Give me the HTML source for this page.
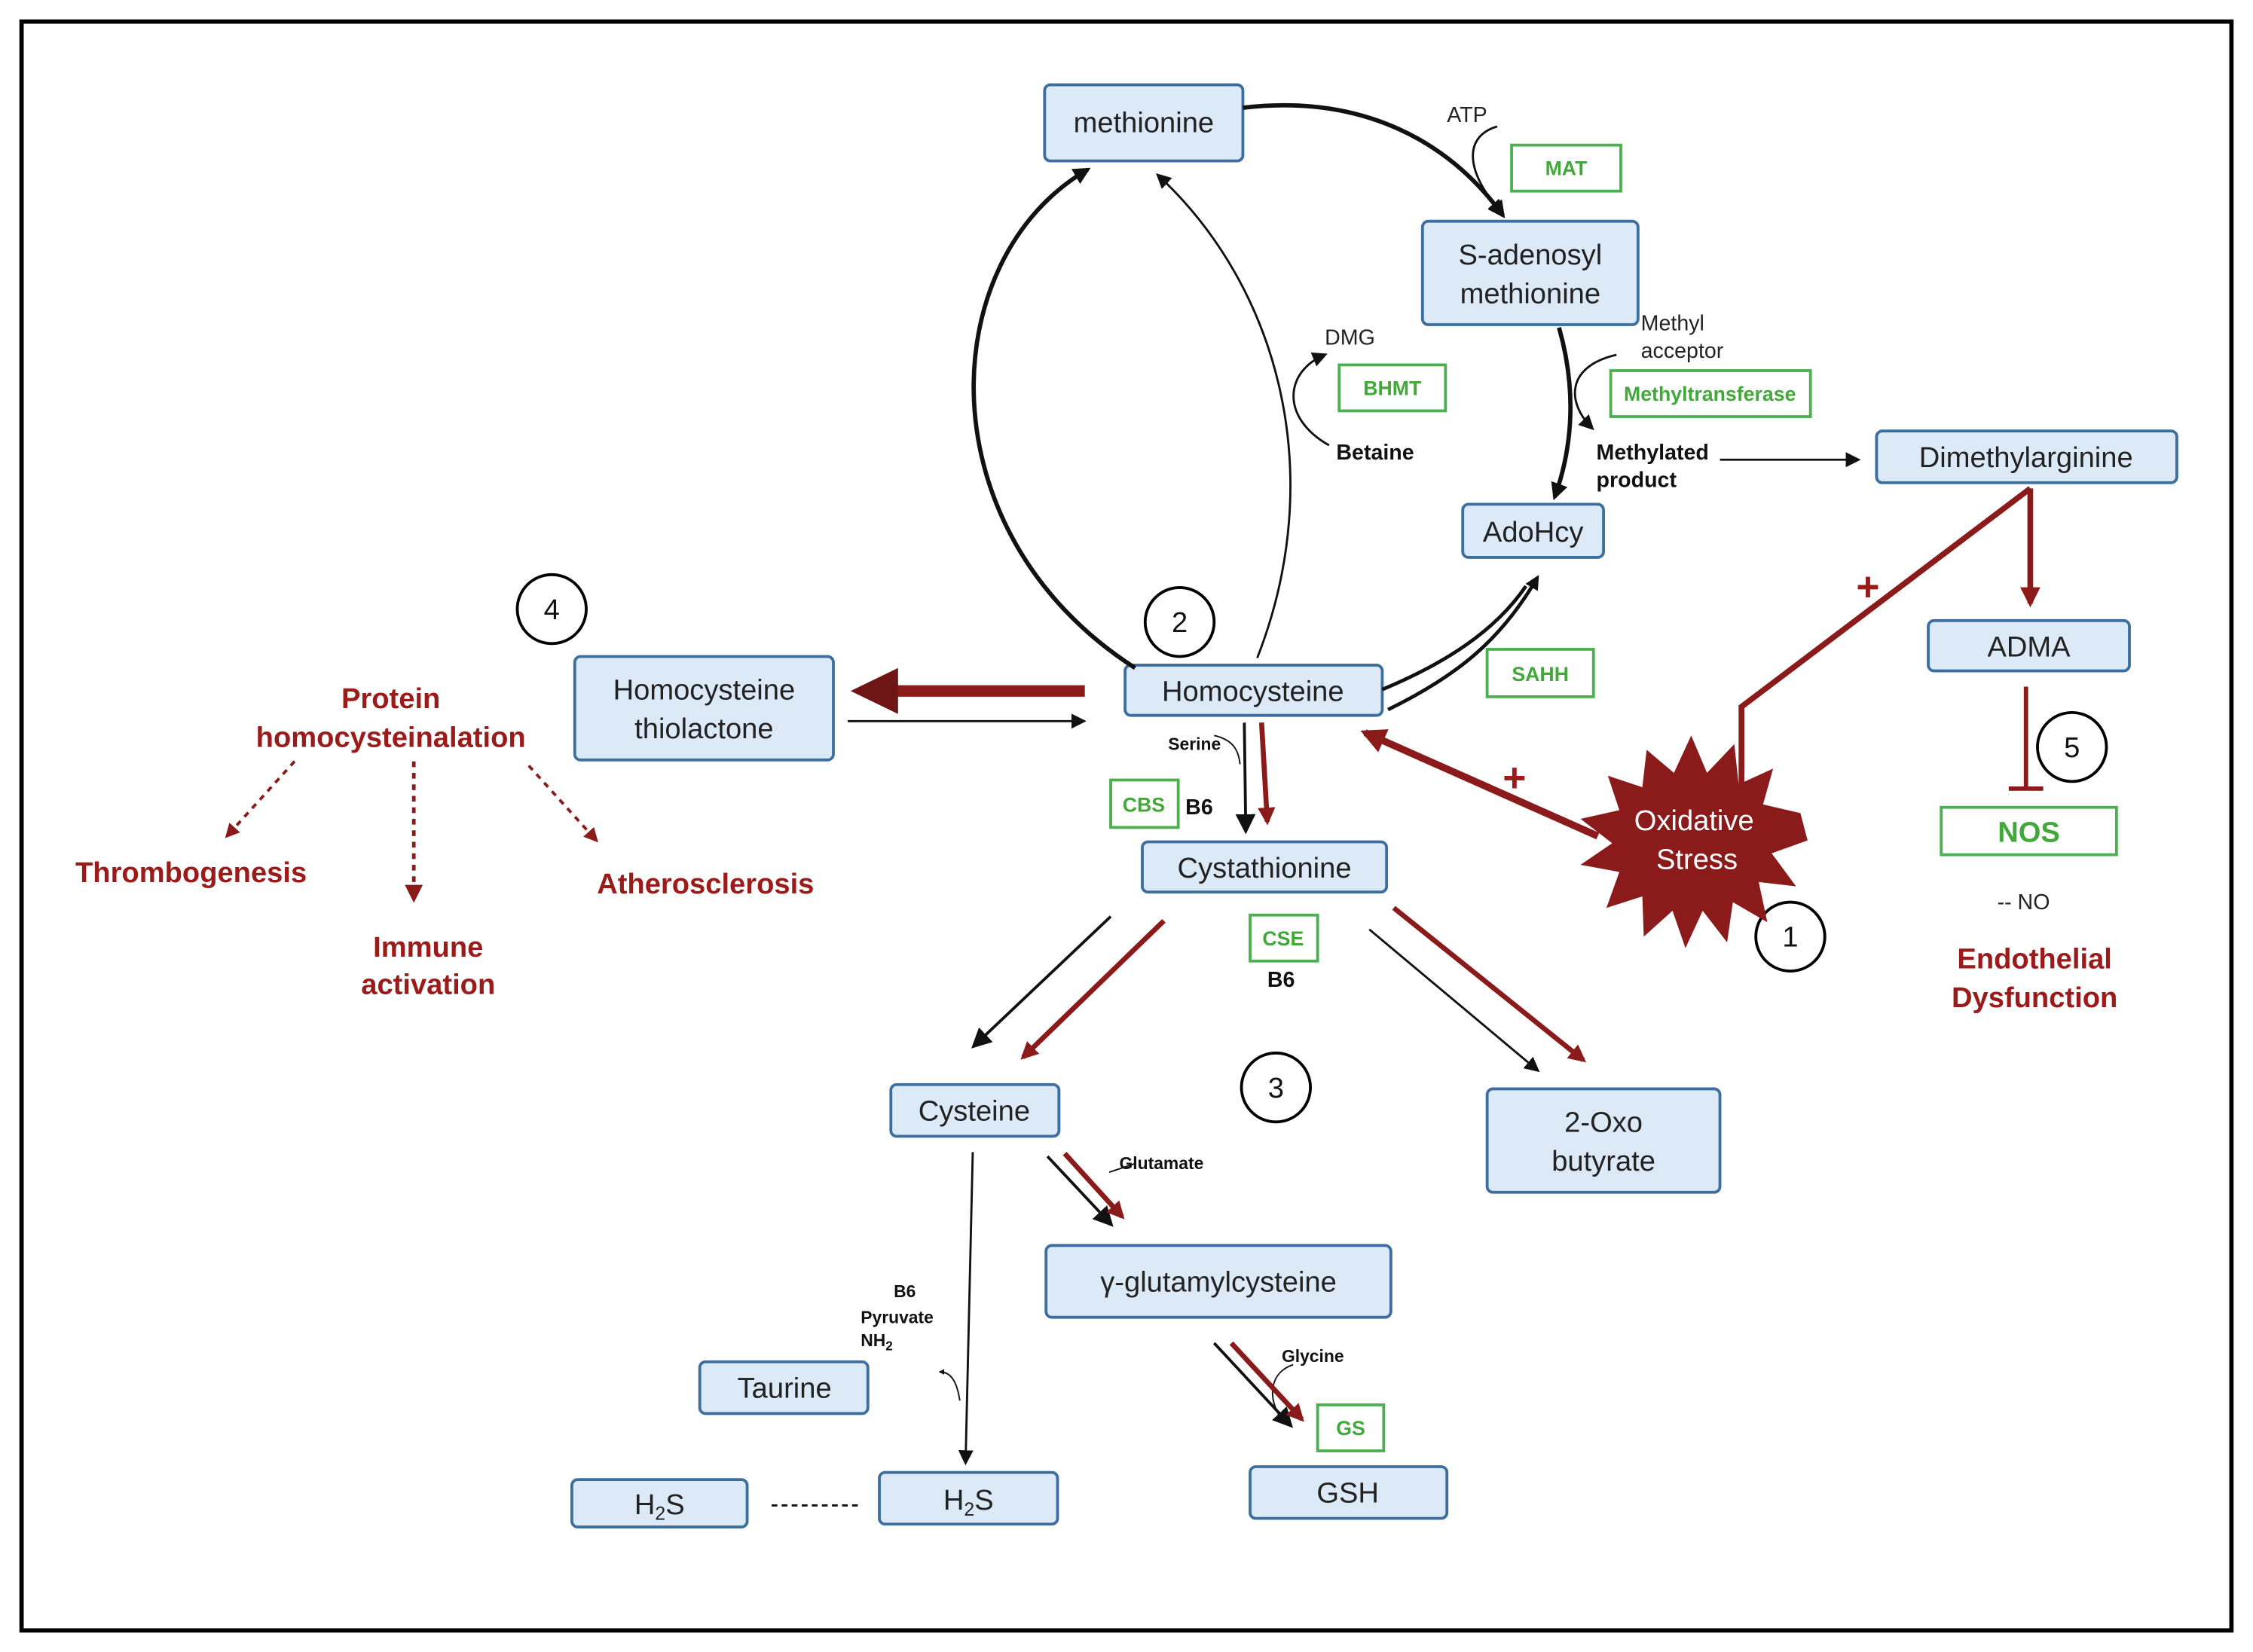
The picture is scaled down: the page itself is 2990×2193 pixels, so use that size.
<!DOCTYPE html>
<html><head><meta charset="utf-8"><style>html,body{margin:0;padding:0;background:#fff}svg{display:block}</style></head><body>
<svg width="2990" height="2193" viewBox="0 0 1568 1150" xmlns="http://www.w3.org/2000/svg" font-family="Liberation Sans, sans-serif">
<defs>
<marker id="ab" viewBox="0 0 10 10" refX="8" refY="5" markerWidth="4" markerHeight="4" orient="auto-start-reverse"><path d="M0,0 L10,5 L0,10 z" fill="#111"/></marker>
<marker id="abs" viewBox="0 0 10 10" refX="8" refY="5" markerWidth="7" markerHeight="7" orient="auto"><path d="M0,0 L10,5 L0,10 z" fill="#111"/></marker>
<marker id="ar" viewBox="0 0 10 10" refX="8" refY="5" markerWidth="3.5" markerHeight="3.5" orient="auto"><path d="M0,0 L10,5 L0,10 z" fill="#8b1a1a"/></marker>
<marker id="ard" viewBox="0 0 10 10" refX="8" refY="5" markerWidth="5" markerHeight="5" orient="auto"><path d="M0,0 L10,5 L0,10 z" fill="#8b1a1a"/></marker>
</defs>
<rect x="0" y="0" width="1568" height="1150" fill="#fff"/>
<rect x="15" y="15" width="1538" height="1120" fill="none" stroke="#000" stroke-width="3"/>

<g fill="#dceaf8" stroke="#3c6f9f" stroke-width="2">
<rect x="727" y="59" width="138" height="53" rx="4"/>
<rect x="990" y="154" width="150" height="72" rx="4"/>
<rect x="1306" y="300" width="209" height="36" rx="4"/>
<rect x="1018" y="351" width="98" height="37" rx="4"/>
<rect x="1342" y="432" width="140" height="35" rx="4"/>
<rect x="783" y="463" width="179" height="35" rx="4"/>
<rect x="400" y="457" width="180" height="72" rx="4"/>
<rect x="795" y="586" width="170" height="35" rx="4"/>
<rect x="620" y="755" width="117" height="36" rx="4"/>
<rect x="1035" y="758" width="162" height="72" rx="4"/>
<rect x="728" y="867" width="240" height="50" rx="4"/>
<rect x="870" y="1021" width="137" height="36" rx="4"/>
<rect x="487" y="948" width="117" height="36" rx="4"/>
<rect x="398" y="1030" width="122" height="33" rx="4"/>
<rect x="612" y="1025" width="124" height="36" rx="4"/>
</g>
<g fill="#fff" stroke="#4caf50" stroke-width="2">
<rect x="1052" y="101" width="76" height="32"/>
<rect x="932" y="254" width="74" height="32"/>
<rect x="1121" y="258" width="139" height="32"/>
<rect x="1035" y="452" width="74" height="33"/>
<rect x="773" y="543" width="47" height="33"/>
<rect x="870" y="637" width="47" height="32"/>
<rect x="917" y="978" width="46" height="32"/>
<rect x="1351" y="562" width="122" height="33"/>
</g>
<g fill="#43a83a" font-weight="bold" font-size="14" text-anchor="middle">
<text x="1090" y="122">MAT</text><text x="969" y="275">BHMT</text><text x="1190" y="279">Methyltransferase</text>
<text x="1072" y="474">SAHH</text><text x="796" y="565">CBS</text><text x="893" y="658">CSE</text><text x="940" y="999">GS</text>
<text x="1412" y="586" font-size="20">NOS</text>
</g>
<g font-size="20" text-anchor="middle" fill="#222">
<text x="796" y="92">methionine</text>
<text x="1065" y="184">S-adenosyl</text><text x="1065" y="211">methionine</text>
<text x="1410" y="325">Dimethylarginine</text>
<text x="1067" y="377">AdoHcy</text>
<text x="1412" y="457">ADMA</text>
<text x="872" y="488">Homocysteine</text>
<text x="490" y="487">Homocysteine</text><text x="490" y="514">thiolactone</text>
<text x="880" y="611">Cystathionine</text>
<text x="678" y="780">Cysteine</text>
<text x="1116" y="788">2-Oxo</text><text x="1116" y="815">butyrate</text>
<text x="848" y="899">γ-glutamylcysteine</text>
<text x="938" y="1046">GSH</text>
<text x="546" y="973">Taurine</text>
<text x="459" y="1054">H<tspan font-size="13" dy="4">2</tspan><tspan dy="-4">S</tspan></text>
<text x="674" y="1051">H<tspan font-size="13" dy="4">2</tspan><tspan dy="-4">S</tspan></text>
</g>
<g font-size="15" fill="#222">
<text x="1007" y="85">ATP</text><text x="922" y="240">DMG</text>
<text x="1142" y="230">Methyl</text><text x="1142" y="249">acceptor</text>
<text x="1390" y="633">-- NO</text>
</g>
<g font-size="15" font-weight="bold" fill="#111">
<text x="930" y="320">Betaine</text>
<text x="1111" y="320">Methylated</text><text x="1111" y="339">product</text>
<text x="825" y="567">B6</text><text x="882" y="687">B6</text>
</g>
<g font-size="12" font-weight="bold" fill="#111">
<text x="813" y="522">Serine</text><text x="779" y="814">Glutamate</text><text x="892" y="948">Glycine</text>
<text x="622" y="903">B6</text><text x="599" y="921">Pyruvate</text><text x="599" y="937">NH<tspan font-size="9" dy="3">2</tspan></text>
</g>
<g font-size="20" font-weight="bold" fill="#9b1b1b" text-anchor="middle">
<text x="272" y="493">Protein</text><text x="272" y="520">homocysteinalation</text>
<text x="133" y="614">Thrombogenesis</text>
<text x="298" y="666">Immune</text><text x="298" y="692">activation</text>
<text x="491" y="622">Atherosclerosis</text>
<text x="1416" y="674">Endothelial</text><text x="1416" y="701">Dysfunction</text>
</g>

<g fill="#fff" stroke="#000" stroke-width="2">
<circle cx="384" cy="424" r="24"/><circle cx="821" cy="433" r="24"/><circle cx="1246" cy="652" r="24"/>
<circle cx="1442" cy="520" r="24"/><circle cx="888" cy="757" r="24"/>
</g>
<g font-size="20" text-anchor="middle" fill="#111">
<text x="384" y="431">4</text><text x="821" y="440">2</text><text x="1246" y="659">1</text><text x="1442" y="527">5</text><text x="888" y="764">3</text>
</g>

<g fill="none" stroke="#111">
<path d="M790,465 C642,370 650,180 757,118" stroke-width="3" marker-end="url(#ab)"/>
<path d="M875,458 C925,330 890,200 806,122" stroke-width="1.5" marker-end="url(#abs)"/>
<path d="M865,75 C950,65 1010,100 1046,150" stroke-width="3" marker-end="url(#ab)"/>
<path d="M1085,228 C1097,270 1095,310 1082,346" stroke-width="3" marker-end="url(#ab)"/>
<path d="M962,480 C1005,462 1040,440 1062,408" stroke-width="2.5"/>
<path d="M966,494 C1015,470 1045,445 1070,402" stroke-width="2.5" marker-end="url(#ab)"/>
<path d="M590,502 L754,502" stroke-width="1.5" marker-end="url(#abs)"/>
<path d="M925,310 C890,290 895,258 922,247" stroke-width="1.5" marker-end="url(#abs)"/>
<path d="M1042,88 C1018,95 1020,120 1045,148" stroke-width="1.5" marker-end="url(#abs)"/>
<path d="M1125,247 C1090,255 1090,280 1108,298" stroke-width="1.5" marker-end="url(#abs)"/>
<path d="M1197,320 L1293,320" stroke-width="1.5" marker-end="url(#abs)"/>
<path d="M845,512 C858,515 862,522 863,532" stroke-width="1"/>
<path d="M866,503 L867,578" stroke-width="2" marker-end="url(#abs)"/>
<path d="M773,638 L678,728" stroke-width="2" marker-end="url(#abs)"/>
<path d="M953,647 L1070,745" stroke-width="1.5" marker-end="url(#abs)"/>
<path d="M729,805 L773,852" stroke-width="2" marker-end="url(#abs)"/>
<path d="M790,810 L772,816" stroke-width="1"/>
<path d="M845,935 L898,992" stroke-width="2" marker-end="url(#abs)"/>
<path d="M900,950 C885,955 882,970 890,985" stroke-width="1"/>
<path d="M677,802 L672,1018" stroke-width="1.5" marker-end="url(#abs)"/>
<path d="M668,975 C666,962 662,955 654,955" stroke-width="1" marker-end="url(#ab)"/>
<path d="M537,1048 L600,1048" stroke-width="1.5" stroke-dasharray="4,3"/>
</g>

<g fill="none" stroke="#8b1a1a">
<path d="M755,481 L615,481" stroke-width="8"/>
<path d="M592,481 L625,465 L625,497 z" fill="#6e1515" stroke="none"/>
<path d="M1112,582 L950,510" stroke-width="5" marker-end="url(#ar)"/>
<path d="M1413,340 L1212,492 L1212,552" stroke-width="4"/>
<path d="M1413,340 L1413,420" stroke-width="4" marker-end="url(#ar)"/>
<path d="M1410,478 L1410,548" stroke-width="3"/>
<path d="M1398,549 L1422,549" stroke-width="3"/>
<path d="M878,503 L882,572" stroke-width="3.5" marker-end="url(#ar)"/>
<path d="M810,641 L712,736" stroke-width="3.5" marker-end="url(#ar)"/>
<path d="M970,632 L1102,738" stroke-width="3.5" marker-end="url(#ar)"/>
<path d="M741,803 L781,847" stroke-width="3.5" marker-end="url(#ar)"/>
<path d="M857,935 L906,988" stroke-width="3.5" marker-end="url(#ar)"/>
<path d="M205,530 L158,582" stroke-width="2" stroke-dasharray="4,4" marker-end="url(#ard)"/>
<path d="M288,530 L288,626" stroke-width="2.5" stroke-dasharray="4,4" marker-end="url(#ard)"/>
<path d="M368,533 L415,585" stroke-width="2" stroke-dasharray="4,4" marker-end="url(#ard)"/>
</g>
<g fill="#9b1b1b" font-size="28" font-weight="bold" text-anchor="middle"><text x="1054" y="551">+</text><text x="1300" y="418">+</text></g>

<polygon fill="#8b1a1a" points="
1258,585 1233,594 1250,617 1224,614 1230,642 1206,628 1202,656 1185,634 1173,660 1164,634 1144,652 1143,624 1118,632 1127,607 1100,602 1122,587 1100,570 1127,564 1119,540 1143,548 1146,522 1165,538 1177,512 1188,538 1207,518 1210,546 1234,535 1227,560 1253,566"/>
<g fill="#fff" font-size="20" text-anchor="middle"><text x="1179" y="578">Oxidative</text><text x="1181" y="605">Stress</text></g>
</svg>
</body></html>
